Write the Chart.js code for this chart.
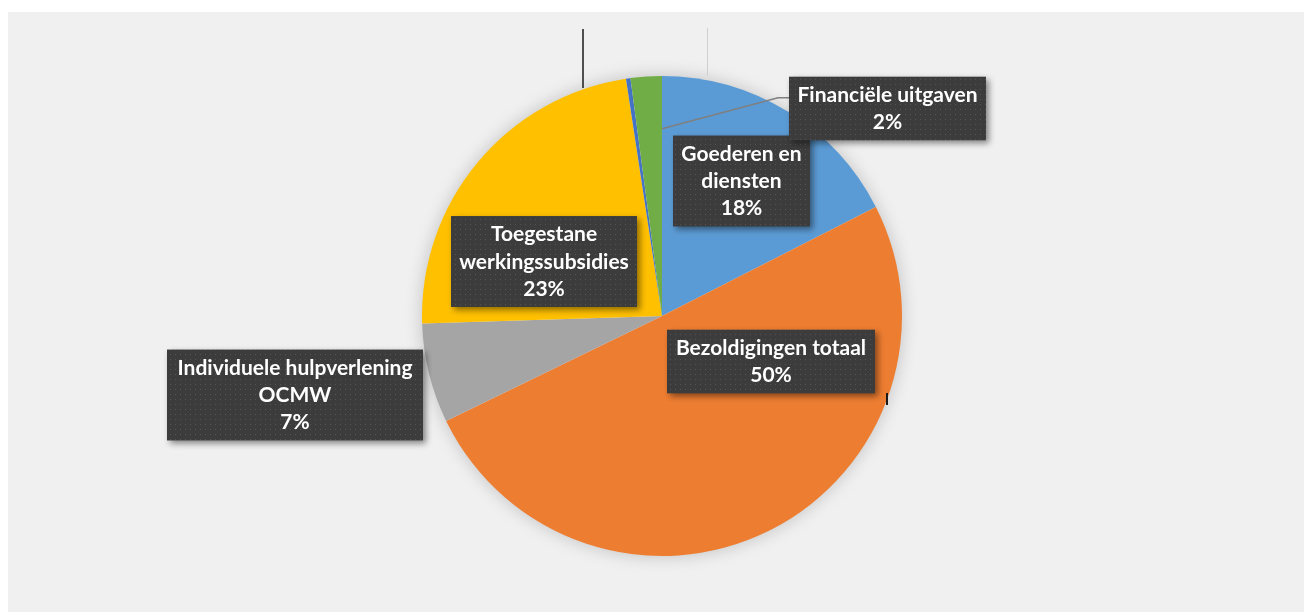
<!DOCTYPE html>
<html>
<head>
<meta charset="utf-8">
<script src="https://cdn.jsdelivr.net/npm/chart.js@4.4.1/dist/chart.umd.min.js"></script>
<style>
  html, body { margin: 0; padding: 0; background: #ffffff; width: 1304px; height: 612px; overflow: hidden; }
  #wrap { position: absolute; left: 8px; top: 12px; width: 1296px; height: 600px; background: #f0f0f0; }
</style>
</head>
<body>
<div id="wrap"><canvas id="c"></canvas></div>
<script>
// ---- Data ----
const categories = [
  "Goederen en diensten",
  "Bezoldigingen totaal",
  "Individuele hulpverlening OCMW",
  "Toegestane werkingssubsidies",
  "Overige",
  "Financiële uitgaven"
];
const values = [17.5, 50.3, 6.7, 23.1, 0.3, 2.1];
const labelLines = [
  ["Goederen en", "diensten"],
  ["Bezoldigingen totaal"],
  ["Individuele hulpverlening", "OCMW"],
  ["Toegestane", "werkingssubsidies"],
  null,
  ["Financiële uitgaven"]
];

// ---- Styles ----
const colors = ["#5b9bd5", "#ed7d31", "#a5a5a5", "#ffc000", "#4472c4", "#70ad47"];
// label box layout: offset of box centre from pie centre, box width
const labelLayout = [
  { dx: 79.5, dy: -135, w: 137 },
  { dx: 109, dy: 45.5, w: 208 },
  { dx: -367, dy: 79, w: 256 },
  { dx: -118, dy: -54.5, w: 186 },
  null,
  { dx: 225.5, dy: -207.5, w: 197, leader: true }
];

function makePattern(ctx) {
  const p = document.createElement('canvas');
  p.width = 5; p.height = 5;
  const pc = p.getContext('2d');
  pc.fillStyle = '#3c3c3c';
  pc.fillRect(0, 0, 5, 5);
  pc.fillStyle = '#555555';
  pc.fillRect(2, 2, 1, 1);
  return ctx.createPattern(p, 'repeat');
}

const pieShadow = {
  id: 'pieShadow',
  beforeDatasetsDraw(chart) {
    const arc = chart.getDatasetMeta(0).data[0];
    if (!arc) return;
    const ctx = chart.ctx;
    ctx.save();
    ctx.shadowColor = 'rgba(0,0,0,0.22)';
    ctx.shadowBlur = 18;
    ctx.fillStyle = '#f0f0f0';
    ctx.beginPath();
    ctx.arc(arc.x, arc.y, arc.outerRadius - 1, 0, Math.PI * 2);
    ctx.fill();
    ctx.restore();
  }
};

const boxLabels = {
  id: 'boxLabels',
  afterDatasetsDraw(chart) {
    const meta = chart.getDatasetMeta(0);
    const ctx = chart.ctx;
    const arc0 = meta.data[0];
    const cx = arc0.x, cy = arc0.y, R = arc0.outerRadius;
    const pattern = makePattern(ctx);
    const total = values.reduce((a, b) => a + b, 0);

    // decorative thin lines present in the original
    ctx.save();
    ctx.strokeStyle = '#1a1a1a';
    ctx.lineWidth = 1.5;
    ctx.beginPath();
    ctx.moveTo(cx - 79, cy - R - 47);
    ctx.lineTo(cx - 79, cy - R + 12);
    ctx.stroke();
    ctx.strokeStyle = '#cfcfcf';
    ctx.lineWidth = 1;
    ctx.beginPath();
    ctx.moveTo(cx + 45.5, cy - R - 48);
    ctx.lineTo(cx + 45.5, cy - R);
    ctx.stroke();
    ctx.strokeStyle = '#1a1a1a';
    ctx.lineWidth = 2;
    ctx.beginPath();
    ctx.moveTo(cx + 225, cy + 77);
    ctx.lineTo(cx + 225, cy + 89);
    ctx.stroke();
    ctx.restore();

    meta.data.forEach((arc, i) => {
      const lay = labelLayout[i];
      if (!lay || !labelLines[i]) return;
      const pct = Math.round(values[i] / total * 100) + '%';
      const lines = labelLines[i].concat([pct]);
      const lh = 27.3;
      const h = lines.length * lh + 9;
      const bx = cx + lay.dx - lay.w / 2;
      const by = cy + lay.dy - h / 2;

      if (lay.leader) {
        const a = arc.endAngle;
        const r = R * 0.78;
        const sx = cx + Math.cos(a) * r, sy = cy + Math.sin(a) * r;
        ctx.save();
        ctx.strokeStyle = '#7f7f7f';
        ctx.lineWidth = 1.5;
        ctx.beginPath();
        ctx.moveTo(sx, sy);
        ctx.lineTo(bx - 11, by + 21);
        ctx.lineTo(bx, by + 21);
        ctx.stroke();
        ctx.restore();
      }

      ctx.save();
      ctx.shadowColor = 'rgba(0,0,0,0.45)';
      ctx.shadowBlur = 6;
      ctx.shadowOffsetX = 3;
      ctx.shadowOffsetY = 3;
      ctx.fillStyle = pattern;
      ctx.fillRect(bx, by, lay.w, h);
      ctx.restore();

      ctx.save();
      ctx.fillStyle = '#ffffff';
      ctx.font = 'bold 21px Lato, "Open Sans", sans-serif';
      ctx.textAlign = 'center';
      ctx.textBaseline = 'middle';
      lines.forEach((t, k) => {
        ctx.fillText(t, cx + lay.dx, by + 18.5 + k * lh);
      });
      ctx.restore();
    });
  }
};

new Chart(document.getElementById('c'), {
  type: 'pie',
  data: {
    labels: categories,
    datasets: [{
      data: values,
      backgroundColor: colors,
      borderWidth: 0,
      hoverOffset: 0
    }]
  },
  options: {
    responsive: true,
    maintainAspectRatio: false,
    animation: false,
    rotation: 0,
    layout: { padding: { left: 12, right: 0, top: 64, bottom: 56 } },
    plugins: {
      legend: { display: false },
      tooltip: { enabled: false },
      title: { display: false }
    }
  },
  plugins: [pieShadow, boxLabels]
});
</script>
</body>
</html>
